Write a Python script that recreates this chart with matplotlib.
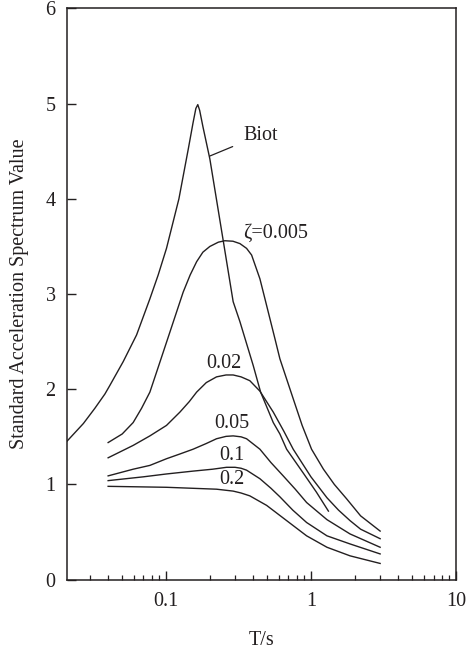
import matplotlib
matplotlib.use("Agg")
import matplotlib.pyplot as plt
from matplotlib.ticker import FixedLocator, NullFormatter, LogLocator

plt.rcParams['font.family'] = ['Liberation Serif', 'DejaVu Serif']

INK = "#231f20"
FS = 14.5

# --- data (T in s, standard acceleration spectrum value) ---
biot_T = [0.0207, 0.027, 0.0324, 0.038, 0.0411, 0.0508, 0.0628, 0.0776, 0.0885, 0.101, 0.123,
          0.143, 0.154, 0.161, 0.166, 0.171, 0.18, 0.201, 0.248, 0.291, 0.324, 0.40, 0.45, 0.55,
          0.611, 0.68, 0.885, 1.09, 1.32]
biot_y = [1.45, 1.64, 1.80, 1.95, 2.04, 2.29, 2.57, 2.95, 3.20, 3.48, 4.00,
          4.53, 4.80, 4.95, 4.99, 4.93, 4.76, 4.42, 3.57, 2.92, 2.71, 2.25, 1.97, 1.65,
          1.53, 1.37, 1.12, 0.92, 0.72]

z005_T = [0.04, 0.05, 0.0595, 0.068, 0.0776, 0.0863, 0.1066, 0.1316, 0.147, 0.163, 0.18,
          0.201, 0.23, 0.255, 0.29, 0.324, 0.36, 0.39, 0.445, 0.482, 0.565, 0.611, 0.755,
          0.87, 1.01, 1.22, 1.45, 1.76, 2.2, 3.0]
z005_y = [1.44, 1.53, 1.65, 1.80, 1.97, 2.18, 2.60, 3.02, 3.20, 3.34, 3.44,
          3.50, 3.545, 3.56, 3.555, 3.53, 3.48, 3.41, 3.16, 2.95, 2.53, 2.32, 1.90,
          1.62, 1.37, 1.16, 1.00, 0.85, 0.67, 0.51]

z02_T = [0.04, 0.0595, 0.0776, 0.101, 0.125, 0.145, 0.163, 0.19, 0.2235, 0.26, 0.291, 0.33,
         0.379, 0.445, 0.55, 0.65, 0.755, 1.0, 1.29, 1.55, 1.86, 2.2, 3.0]
z02_y = [1.28, 1.41, 1.51, 1.62, 1.76, 1.87, 1.97, 2.07, 2.13, 2.15, 2.15, 2.13,
         2.09, 1.98, 1.76, 1.56, 1.37, 1.08, 0.86, 0.73, 0.62, 0.53, 0.43]

z05_T = [0.04, 0.0595, 0.0776, 0.101, 0.125, 0.154, 0.19, 0.2235, 0.26, 0.291, 0.33, 0.36,
         0.445, 0.53, 0.644, 0.78, 0.934, 1.29, 1.86, 3.0]
z05_y = [1.09, 1.16, 1.20, 1.27, 1.32, 1.37, 1.43, 1.48, 1.505, 1.51, 1.50, 1.48,
         1.37, 1.23, 1.09, 0.95, 0.81, 0.63, 0.48, 0.34]

z1_T = [0.04, 0.07, 0.101, 0.154, 0.21, 0.262, 0.30, 0.33, 0.36, 0.445, 0.53, 0.611,
        0.75, 0.934, 1.29, 1.86, 3.0]
z1_y = [1.04, 1.08, 1.11, 1.14, 1.16, 1.18, 1.18, 1.17, 1.15, 1.06, 0.96, 0.87,
        0.73, 0.60, 0.46, 0.375, 0.27]

z2_T = [0.04, 0.101, 0.2235, 0.291, 0.33, 0.379, 0.495, 0.68, 0.934, 1.29, 1.86, 3.0]
z2_y = [0.98, 0.97, 0.95, 0.93, 0.91, 0.88, 0.78, 0.62, 0.46, 0.34, 0.25, 0.17]

series = [
    (biot_T, biot_y),
    (z005_T, z005_y),
    (z02_T, z02_y),
    (z05_T, z05_y),
    (z1_T, z1_y),
    (z2_T, z2_y),
]

# curve labels: text, T, value, alignment
curve_labels = [
    ("ζ=0.005", 0.341, 3.64, "left"),
    ("0.02", 0.251, 2.27, "center"),
    ("0.05", 0.283, 1.64, "center"),
    ("0.1", 0.283, 1.30, "center"),
    ("0.2", 0.283, 1.05, "center"),
]

x_ticks = [0.1, 1, 10]
x_tick_labels = ["0.1", "1", "10"]
y_ticks = [0, 1, 2, 3, 4, 5, 6]

fig = plt.figure(figsize=(4.66, 6.52), dpi=100, facecolor="white")
ax = fig.add_axes([0.143, 0.111, 0.8355, 0.876])

for T, y in series:
    ax.plot(T, y, color=INK, linewidth=1.0, solid_joinstyle="round")

for txt, tx, ty, ha in curve_labels:
    ax.text(tx, ty, txt, ha=ha, va="center", fontsize=FS, color=INK)

ax.annotate("Biot", xy=(0.201, 4.45), xytext=(0.341, 4.67),
            ha="left", va="center", fontsize=FS, color=INK,
            arrowprops=dict(arrowstyle="-", color=INK, lw=0.9,
                            shrinkA=6, shrinkB=0))

ax.set_xscale("log")
ax.set_xlim(0.0207, 10)
ax.set_ylim(0, 6)

ax.xaxis.set_major_locator(FixedLocator(x_ticks))
ax.set_xticklabels(x_tick_labels)
ax.xaxis.set_minor_locator(LogLocator(base=10, subs=range(2, 10)))
ax.xaxis.set_minor_formatter(NullFormatter())
ax.set_yticks(y_ticks)

ax.tick_params(axis="both", which="major", direction="in", length=6.5, width=1.0,
               color=INK, labelcolor=INK, labelsize=FS)
ax.tick_params(axis="x", which="major", pad=9)
ax.tick_params(axis="y", which="major", pad=8)
ax.tick_params(axis="x", which="minor", direction="in", length=3.3, width=0.9, color=INK)
ax.tick_params(top=False, right=False, which="both")

for sp in ax.spines.values():
    sp.set_color(INK)
    sp.set_linewidth(1.1)

ax.set_xlabel("T/s", fontsize=FS, color=INK, labelpad=14)
ax.set_ylabel("Standard Acceleration Spectrum Value", fontsize=FS, color=INK, labelpad=12)

fig.savefig("out.png", dpi=100, facecolor="white")
